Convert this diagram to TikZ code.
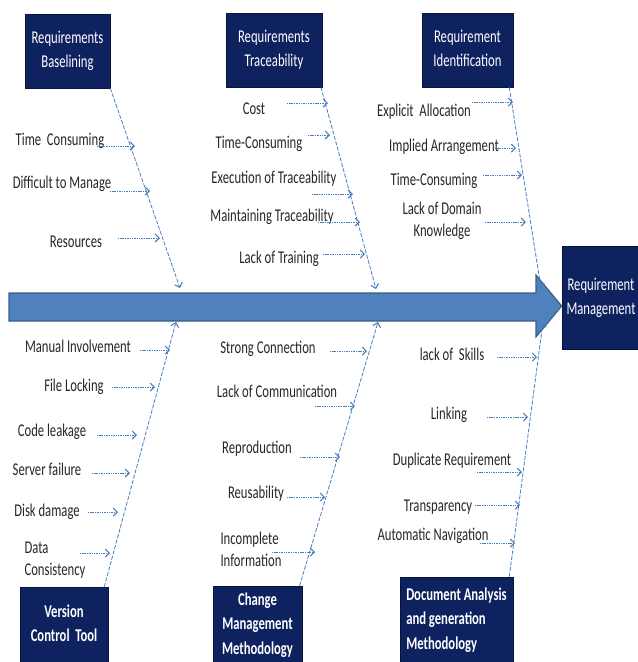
\documentclass[tikz,border=0pt]{standalone}
\usepackage{fontspec}
\usepackage{graphicx}
\setmainfont{Carlito}
\usetikzlibrary{arrows.meta}
\definecolor{navy}{HTML}{0F2260}
\definecolor{linblue}{HTML}{4A7EBB}
\definecolor{arrfill}{HTML}{4F81BD}
\definecolor{arrline}{HTML}{385D8A}
\newcommand\tx[2][c]{\scalebox{1}[1.42]{\begin{tabular}{@{}#1@{}}#2\end{tabular}}}
\tikzset{
  box/.style={fill=navy, draw=navy!60!black, text=white, align=center, inner sep=2pt, font=\fontsize{9.5}{12.8}\selectfont},
  bbox/.style={box, font=\fontsize{9.5}{12.8}\selectfont\bfseries},
  lbl/.style={align=center, inner sep=0pt, font=\fontsize{9.5}{11.5}\selectfont, text=black!85},
  spine/.style={draw=linblue, line width=0.6pt, dash pattern=on 3pt off 1.2pt, -{Straight Barb[length=3pt,width=6pt,line width=0.8pt]}},
  br/.style={draw=linblue, line width=0.6pt, dash pattern=on 0.8pt off 0.5pt, -{Straight Barb[length=3pt,width=6pt,line width=0.8pt]}},
}
\newcommand\cause[5]{\node[lbl] (#1) at (#2) {\tx{#3}}; \draw[br] (#4) -- (#5);}
\begin{document}
\begin{tikzpicture}[x=0.75pt,y=-0.75pt]
\useasboundingbox (0,0) rectangle (638,662);
% boxes
\node[box, minimum width=85*0.75pt, minimum height=74*0.75pt] (bas) at (67.5,51) {\raisebox{-2pt}{\tx{Requirements\\Baselining}}};
\node[box, minimum width=96*0.75pt, minimum height=74*0.75pt] (tra) at (274,50) {\raisebox{-2pt}{\tx{Requirements\\Traceability}}};
\node[box, minimum width=91*0.75pt, minimum height=74*0.75pt] (ide) at (467.5,50) {\raisebox{-2pt}{\tx{Requirement\\Identification}}};
\node[box, minimum width=78*0.75pt, minimum height=103*0.75pt] (man) at (601,298) {\tx{Requirement\\Management}};
\node[bbox, minimum width=88*0.75pt, minimum height=76*0.75pt] (ver) at (64,625) {\raisebox{-2pt}{\tx{Version\\Control\ \ Tool}}};
\node[bbox, minimum width=89*0.75pt, minimum height=76*0.75pt] (chg) at (257.5,625) {\tx{Change\\Management\\Methodology}};
\node[bbox, minimum width=113*0.75pt, minimum height=86*0.75pt] (doc) at (456.5,620) {\tx[l]{Document Analysis\\and generation\\Methodology}};
% main arrow
\filldraw[fill=arrfill, draw=arrline, line width=0.8pt]
  (9,293) -- (536,293) -- (536,275) -- (man.west |- 0,306) -- (536,337) -- (536,321) -- (9,321) -- cycle;
% spine end points
\coordinate (e1) at (180,288);
\coordinate (e2) at (376,289);
\coordinate (e3) at (541,288);
\coordinate (e4) at (176,322);
\coordinate (e5) at (378,322);
\coordinate (e6) at (543,322);
\draw[spine] (bas.south east) -- (e1);
\draw[spine] ([xshift=-1pt]tra.south east) -- (e2);
\draw[spine] ([xshift=-3pt]ide.south east) -- (e3);
\draw[spine] ([xshift=-3pt]ver.north east) -- (e4);
\draw[spine] ([xshift=-2pt]chg.north east) -- (e5);
\draw[spine] ([xshift=-3pt]doc.north east) -- (e6);
% Baselining causes
\cause{b1}{60,141}{Time\ \ Consuming}{97,146}{135,146}
\cause{b2}{62,184}{Difficult to Manage}{110,191}{150,191}
\cause{b3}{76,243}{Resources}{118,238}{160,238}
% Traceability causes
\cause{t1}{254,110}{Cost}{287,103}{328,103}
\cause{t2}{259,144}{Time-Consuming}{308,135}{330,135}
\cause{t3}{274,179}{Execution of Traceability}{312,194}{353,194}
\cause{t4}{272,217}{Maintaining Traceability}{318,222}{360,222}
\cause{t5}{279,259}{Lack of Training}{323,254}{365,254}
% Identification causes
\cause{i1}{424,112}{Explicit\ \ Allocation}{472,102}{513,102}
\cause{i2}{444,147}{Implied Arrangement}{495,148}{516,148}
\cause{i3}{434,181}{Time-Consuming}{483,175}{522,175}
\cause{i4}{442,221}{Lack of Domain\\Knowledge}{485,222}{526,222}
% Version control causes
\cause{v1}{78,348}{Manual Involvement}{140,350}{170,350}
\cause{v2}{74,387}{File Locking}{112,387}{155,387}
\cause{v3}{52,432}{Code leakage}{97,435}{137,435}
\cause{v4}{47,471}{Server failure}{92,473}{130,473}
\cause{v5}{47,512}{Disk damage}{88,512}{118,512}
\node[lbl] (v6) at (55,560) {\tx[l]{Data\\Consistency}};
\draw[br] (80,553) -- (110,553);
% Change management causes
\cause{c1}{268,349}{Strong Connection}{330,351}{367,351}
\cause{c2}{277,393}{Lack of Communication}{315,406}{355,406}
\cause{c3}{257,449}{Reproduction}{300,457}{340,457}
\cause{c4}{256,494}{Reusability}{287,497}{325,497}
\node[lbl] (c5) at (251,551) {\tx[l]{Incomplete\\Information}};
\draw[br] (272,552) -- (315,552);
% Document causes
\cause{d1}{452,356}{lack of\ \ Skills}{497,357}{537,357}
\cause{d2}{449,415}{Linking}{487,417}{528,417}
\cause{d3}{452,461}{Duplicate Requirement}{477,472}{522,472}
\cause{d4}{438,507}{Transparency}{475,505}{520,505}
\cause{d5}{433,536}{Automatic Navigation}{480,543}{515,543}
\end{tikzpicture}
\end{document}
